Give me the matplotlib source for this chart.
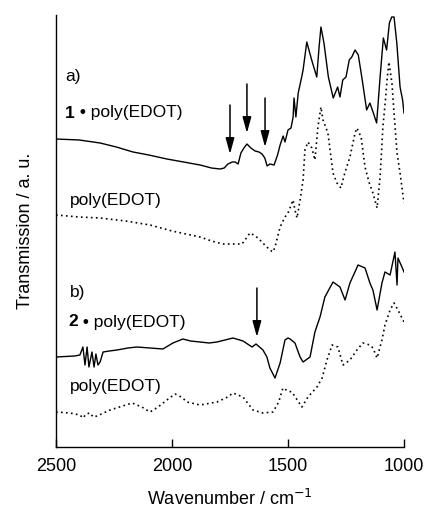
import matplotlib
matplotlib.use("Agg")
import matplotlib.pyplot as plt

plt.rcParams['font.family'] = ['Liberation Sans', 'DejaVu Sans']

# a) 1 . poly(EDOT)  (solid)
wn_a1 = [2500, 2400, 2310, 2240, 2168, 2100, 2022, 1950, 1879, 1830, 1793, 1775, 1759, 1740,
         1728, 1715, 1703, 1690, 1677, 1660, 1642, 1625, 1612, 1600, 1590, 1578, 1560, 1545,
         1534, 1521, 1513, 1500, 1487, 1478, 1474, 1466, 1456, 1441, 1435, 1419, 1398, 1376,
         1366, 1358, 1345, 1326, 1305, 1286, 1276, 1264, 1250, 1236, 1225, 1211, 1197, 1182,
         1161, 1147, 1132, 1118, 1103, 1089, 1075, 1063, 1053, 1043, 1031, 1017, 1006, 1000]
t_a1 = [308, 307, 304, 300, 295, 292, 288, 285, 282, 279, 278, 279, 283, 285,
        285, 283, 294, 299, 303, 299, 296, 295, 293, 289, 281, 283, 282, 292,
        302, 311, 305, 317, 319, 330, 349, 330, 354, 370, 377, 405, 387, 370,
        400, 420, 404, 370, 349, 360, 350, 367, 370, 387, 390, 397, 392, 370,
        337, 344, 334, 324, 370, 409, 397, 424, 430, 430, 404, 360, 347, 334]

# a) poly(EDOT)  (dotted)
wn_a2 = [2500, 2400, 2310, 2200, 2095, 2000, 1879, 1830, 1780, 1740, 1698, 1664, 1640, 1621,
         1600, 1578, 1565, 1556, 1534, 1513, 1500, 1478, 1470, 1461, 1448, 1435, 1427, 1414,
         1397, 1384, 1371, 1358, 1349, 1328, 1306, 1289, 1272, 1254, 1233, 1211, 1203, 1185,
         1168, 1151, 1134, 1116, 1103, 1091, 1080, 1073, 1065, 1052, 1043, 1030, 1017, 1000]
t_a2 = [232, 230, 229, 226, 222, 216, 210, 206, 203, 203, 203, 214, 211, 207,
        202, 197, 195, 200, 220, 230, 234, 247, 237, 229, 247, 267, 297, 305,
        299, 287, 320, 340, 327, 314, 274, 264, 259, 275, 290, 314, 319, 310,
        280, 265, 254, 239, 270, 320, 347, 367, 385, 364, 334, 294, 274, 244]

# b) 2 . poly(EDOT)  (solid)
wn_b1 = [2500, 2420, 2397, 2384, 2375, 2366, 2358, 2345, 2336, 2328, 2319, 2310, 2297, 2270,
         2237, 2190, 2151, 2095, 2039, 1996, 1953, 1920, 1879, 1840, 1806, 1737, 1694, 1655,
         1638, 1608, 1591, 1578, 1556, 1534, 1513, 1500, 1491, 1470, 1448, 1435, 1405, 1384,
         1362, 1341, 1306, 1276, 1254, 1233, 1198, 1168, 1147, 1134, 1116, 1095, 1082, 1060,
         1039, 1030, 1026, 1009, 1000]
t_b1 = [90, 91, 92, 100, 82, 100, 80, 95, 80, 93, 82, 85, 95, 96,
        97, 99, 100, 99, 98, 104, 108, 106, 105, 104, 105, 109, 106, 100,
        103, 97, 90, 79, 69, 84, 107, 109, 108, 104, 90, 85, 90, 115,
        130, 150, 165, 160, 147, 164, 182, 179, 164, 157, 137, 164, 175, 172,
        195, 162, 189, 180, 175]

# b) poly(EDOT)  (dotted)
wn_b2 = [2500, 2440, 2397, 2384, 2370, 2353, 2340, 2323, 2267, 2172, 2130, 2095, 2060, 2022,
         1987, 1960, 1935, 1879, 1806, 1760, 1737, 1694, 1651, 1608, 1565, 1540, 1522, 1500,
         1483, 1440, 1414, 1375, 1353, 1332, 1310, 1285, 1263, 1233, 1203, 1177, 1147, 1134,
         1116, 1095, 1082, 1060, 1043, 1026, 1000]
t_b2 = [35, 34, 32, 29, 33, 34, 30, 31, 37, 44, 40, 35, 40, 47,
        53, 50, 45, 42, 45, 50, 54, 50, 37, 34, 35, 45, 59, 56,
        55, 40, 50, 60, 69, 87, 102, 100, 82, 87, 97, 104, 102, 99,
        89, 107, 122, 137, 144, 137, 125]

# arrows: (wavenumber, y of tail, y of tip)
arrow_wn = [1750, 1677, 1599, 1634]
arrow_top = [342, 363, 349, 159]
arrow_tip = [293, 314, 300, 110]

fig = plt.figure(figsize=(4.27, 5.13), dpi=100)
ax = fig.add_axes([56 / 427, 66 / 513, 348 / 427, 432 / 513])

ax.plot(wn_a1, t_a1, color='black', lw=1.0)
ax.plot(wn_a2, t_a2, color='black', lw=1.2, linestyle=(0, (1, 2)))
ax.plot(wn_b1, t_b1, color='black', lw=1.0)
ax.plot(wn_b2, t_b2, color='black', lw=1.2, linestyle=(0, (1, 2)))

for x, y0, y1 in zip(arrow_wn, arrow_top, arrow_tip):
    ax.annotate('', xy=(x, y1), xytext=(x, y0),
                arrowprops=dict(arrowstyle='-|>,head_length=0.8,head_width=0.22',
                                color='black', lw=1.1, shrinkA=0, shrinkB=0,
                                mutation_scale=12))

fs = 12.5
ax.text(2461, 370, 'a)', fontsize=fs, va='center', ha='left')
t1 = ax.text(2461, 334, '1', fontsize=fs, fontweight='bold', va='center', ha='left')
ax.annotate(' \u2022 poly(EDOT)', xy=(1, 0), xycoords=t1, fontsize=fs, va='bottom', ha='left')
ax.text(2440, 247, 'poly(EDOT)', fontsize=fs, va='center', ha='left')
ax.text(2440, 154, 'b)', fontsize=fs, va='center', ha='left')
t2 = ax.text(2448, 125, '2', fontsize=fs, fontweight='bold', va='center', ha='left')
ax.annotate(' \u2022 poly(EDOT)', xy=(1, 0), xycoords=t2, fontsize=fs, va='bottom', ha='left')
ax.text(2440, 60, 'poly(EDOT)', fontsize=fs, va='center', ha='left')

ax.set_xlim(2500, 1000)
ax.set_ylim(0, 432)
ax.set_xticks([2500, 2000, 1500, 1000])
ax.set_yticks([])
ax.tick_params(axis='x', direction='in', length=6, width=1, labelsize=13, pad=8)
for s in ['top', 'right']:
    ax.spines[s].set_visible(False)
ax.spines['left'].set_linewidth(1)
ax.spines['bottom'].set_linewidth(1)

ax.set_xlabel('Wavenumber / cm$^{-1}$', fontsize=13, labelpad=10)
ax.set_ylabel('Transmission / a. u.', fontsize=13, labelpad=16)

fig.savefig('out.png', dpi=100)
